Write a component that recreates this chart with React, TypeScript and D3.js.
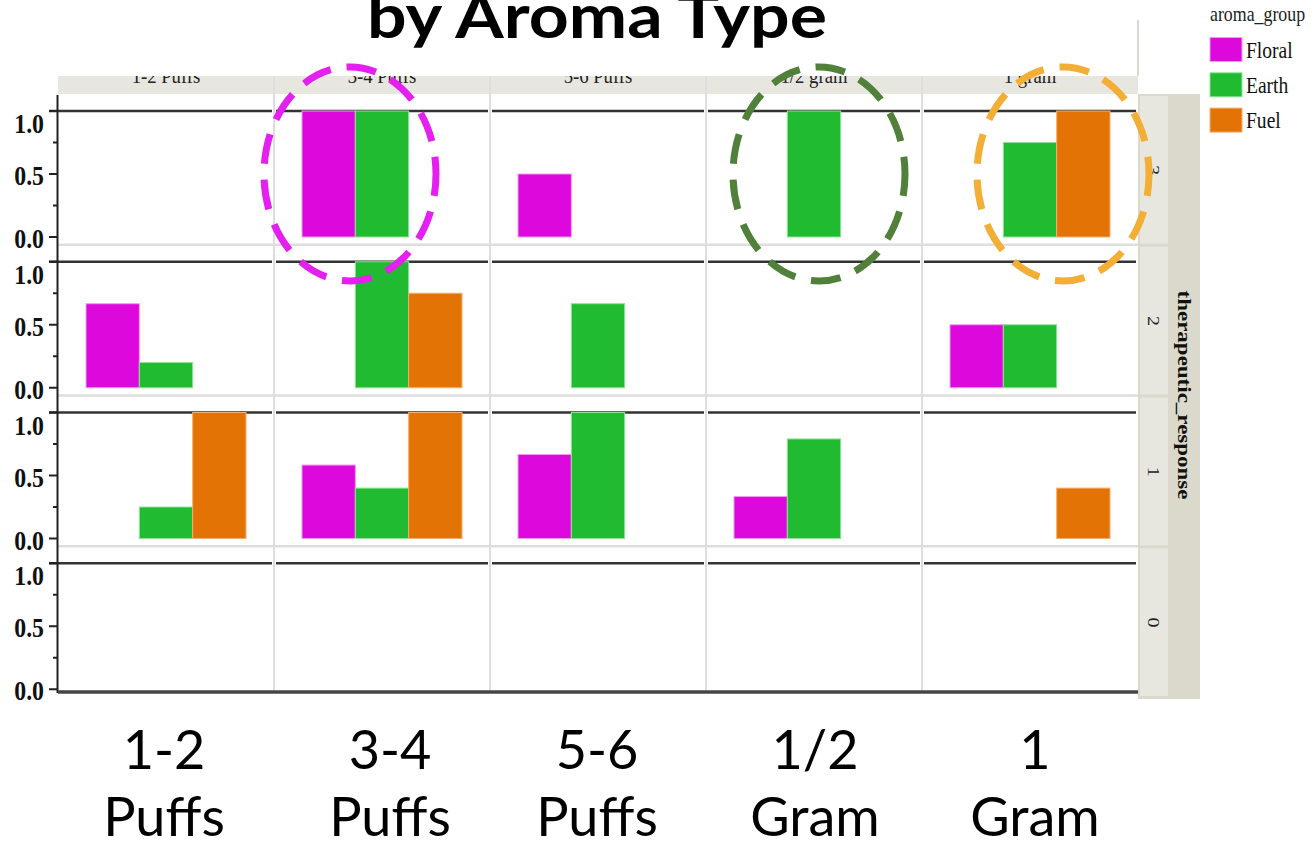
import React from "react";
import * as d3 from "d3";

const aromaGroups = ["Floral", "Earth", "Fuel"];
const doseLevels = ["1-2 Puffs", "3-4 Puffs", "5-6 Puffs", "1/2 gram", "1 gram"];
const responseLevels = ["3", "2", "1", "0"];
const yTicks = [0, 0.5, 1.0];
const yMinorTicks = [0.25, 0.75];
const slideLine1 = ["1-2", "3-4", "5-6", "1/2", "1"];
const slideLine2 = ["Puffs", "Puffs", "Puffs", "Gram", "Gram"];

// values[responseIndex][doseIndex], 0 = no bar
const floralValues = [
  [0, 1.0, 0.5, 0, 0],
  [0.667, 0, 0, 0, 0.5],
  [0, 0.583, 0.667, 0.333, 0],
  [0, 0, 0, 0, 0],
];
const earthValues = [
  [0, 1.0, 0, 1.0, 0.75],
  [0.2, 1.0, 0.667, 0, 0.5],
  [0.25, 0.4, 1.0, 0.79, 0],
  [0, 0, 0, 0, 0],
];
const fuelValues = [
  [0, 0, 0, 0, 1.0],
  [0, 0.75, 0, 0, 0],
  [1.0, 1.0, 0, 0, 0.4],
  [0, 0, 0, 0, 0],
];

const groupColors = ["#dd08dc", "#21bb31", "#e37305"];
const groupStroke = ["#f09af0", "#8ee494", "#f3b070"];
const highlightColors = ["#e41ff0", "#50803a", "#f2ae35"];
const highlightCols = [1, 3, 4];
const highlightShift = [-32, 5, 33];
const labelShift = [-2, 8, -1, 1, 5];

const W = 1316;
const H = 844;
const serif = "'Liberation Serif', 'DejaVu Serif', serif";
const sans = "Lato, 'Open Sans', sans-serif";

export default function App() {
  const xCol = d3.scaleBand<string>().domain(doseLevels).range([58, 1138]);
  const yRow = d3.scaleBand<string>().domain(responseLevels).range([95, 698]);
  const xBar = d3.scaleBand<string>().domain(aromaGroups).range([28, 188]);
  const colW = xCol.bandwidth();
  const rowH = yRow.bandwidth();
  const seriesValues = [floralValues, earthValues, fuelValues];

  const yFor = (r: string) =>
    d3.scaleLinear().domain([0, 1]).range([(yRow(r) as number) + 142, (yRow(r) as number) + 16]);

  const sx = 0.85;

  return (
    <svg
      width={W}
      height={H}
      style={{ position: "absolute", left: 0, top: 0, background: "#fff" }}
    >
      <defs>
        <clipPath id="stripClip">
          <rect x={58} y={76} width={1080} height={18} />
        </clipPath>
      </defs>
      <rect x={0} y={0} width={W} height={H} fill="#fff" />

      {/* Title (cut off) */}
      <text
        x={597}
        y={38}
        textAnchor="middle"
        fontFamily={sans}
        fontWeight="bold"
        fontSize={62}
        textLength={460}
        lengthAdjust="spacingAndGlyphs"
        fill="#000"
      >
        by Aroma Type
      </text>

      {/* frame line at top right */}
      <line x1={1138} x2={1138} y1={20} y2={76} stroke="#d8d8d0" strokeWidth={2} />

      {/* top strip */}
      <rect x={58} y={76} width={1080} height={18} fill="#e8e7df" />
      <g clipPath="url(#stripClip)">
        {doseLevels.map((d) => (
          <text
            key={d}
            transform={`translate(${(xCol(d) as number) + colW / 2},${83}) scale(${sx},1)`}
            textAnchor="middle"
            fontFamily={serif}
            fontSize={22}
            fill="#222"
          >
            {d}
          </text>
        ))}
      </g>

      {/* right strips */}
      <rect x={1138} y={94} width={62} height={605} fill="#dbd9cb" />
      {responseLevels.map((r) => {
        const top = yRow(r) as number;
        return (
          <g key={"rs" + r}>
            <rect x={1140} y={top + 1} width={28} height={rowH - 3} fill="#e8e7df" />
            <text
              transform={`translate(${1154},${top + rowH / 2}) rotate(90) scale(1,${sx})`}
              textAnchor="middle"
              dominantBaseline="central"
              fontFamily={serif}
              fontSize={20}
              fill="#222"
            >
              {r}
            </text>
          </g>
        );
      })}
      <text
        transform={`translate(${1184},${395}) rotate(90) scale(1,${sx})`}
        textAnchor="middle"
        dominantBaseline="central"
        fontFamily={serif}
        fontWeight="bold"
        fontSize={23}
        fill="#111"
      >
        therapeutic_response
      </text>

      {/* column separators */}
      {doseLevels.slice(1).map((d) => (
        <line
          key={"cs" + d}
          x1={xCol(d) as number}
          x2={xCol(d) as number}
          y1={76}
          y2={692}
          stroke="#dedede"
          strokeWidth={2}
        />
      ))}
      {/* row separators */}
      {responseLevels.slice(1).map((r) => (
        <line
          key={"rsep" + r}
          x1={58}
          x2={1138}
          y1={(yRow(r) as number) - 1}
          y2={(yRow(r) as number) - 1}
          stroke="#dedede"
          strokeWidth={2.5}
        />
      ))}

      {/* panels */}
      {responseLevels.map((r, ri) => {
        const y = yFor(r);
        return (
          <g key={"p" + r}>
            {doseLevels.map((d, di) => {
              const x0 = xCol(d) as number;
              return (
                <g key={d}>
                  <line
                    x1={x0 + (di === 0 ? -9 : 2)}
                    x2={x0 + colW - 2}
                    y1={y(1)}
                    y2={y(1)}
                    stroke="#333"
                    strokeWidth={2.5}
                  />
                  {aromaGroups.map((g, gi) => {
                    const v = seriesValues[gi][ri][di];
                    if (!v) return null;
                    return (
                      <rect
                        key={g}
                        x={x0 + (xBar(g) as number)}
                        y={y(v)}
                        width={xBar.bandwidth()}
                        height={y(0) - y(v)}
                        fill={groupColors[gi]}
                        stroke={groupStroke[gi]}
                        strokeWidth={1}
                      />
                    );
                  })}
                </g>
              );
            })}
            {/* y ticks */}
            {yTicks.map((t) => (
              <line key={"t" + t} x1={49} x2={58} y1={y(t)} y2={y(t)} stroke="#222" strokeWidth={2} />
            ))}
            {yMinorTicks.map((t) => (
              <line key={"m" + t} x1={53} x2={58} y1={y(t)} y2={y(t)} stroke="#222" strokeWidth={2} />
            ))}
            {yTicks.map((t) => (
              <text
                key={"l" + t}
                transform={`translate(${44},${y(t) + (t === 1 ? 13 : 2)}) scale(${sx},1)`}
                textAnchor="end"
                dominantBaseline="central"
                fontFamily={serif}
                fontWeight="bold"
                fontSize={28}
                fill="#111"
              >
                {t.toFixed(1)}
              </text>
            ))}
          </g>
        );
      })}

      {/* y axis line */}
      <line x1={57.5} x2={57.5} y1={95} y2={693} stroke="#222" strokeWidth={2} />
      {/* bottom axis */}
      <line x1={58} x2={1138} y1={692} y2={692} stroke="#444" strokeWidth={3.5} />

      {/* legend */}
      <text
        transform={`translate(1210,21) scale(${sx},1)`}
        fontFamily={serif}
        fontSize={21}
        fill="#222"
      >
        aroma_group
      </text>
      {aromaGroups.map((g, gi) => (
        <g key={"lg" + g}>
          <rect
            x={1210}
            y={37.5 + gi * 35.3}
            width={32}
            height={24}
            fill={groupColors[gi]}
            stroke={groupStroke[gi]}
            strokeWidth={1}
          />
          <text
            transform={`translate(1246,${57.5 + gi * 35.3}) scale(${sx},1)`}
            fontFamily={serif}
            fontSize={23}
            fill="#111"
          >
            {g}
          </text>
        </g>
      ))}

      {/* highlight ellipses */}
      {highlightCols.map((ci, i) => {
        const d = doseLevels[ci];
        const y = yFor("3");
        return (
          <ellipse
            key={"hl" + i}
            cx={(xCol(d) as number) + colW / 2 + highlightShift[i]}
            cy={(y(0) + y(1)) / 2}
            rx={86}
            ry={107}
            fill="none"
            stroke={highlightColors[i]}
            strokeWidth={7}
            strokeDasharray="30 16"
            strokeDashoffset={8}
          />
        );
      })}

      {/* slide labels */}
      {doseLevels.map((d, di) => {
        const cx = (xCol(d) as number) + colW / 2 + labelShift[di];
        return (
          <g key={"sl" + d}>
            <text x={cx} y={769} textAnchor="middle" fontFamily={sans} fontSize={54} fill="#000">
              {slideLine1[di]}
            </text>
            <text x={cx} y={836} textAnchor="middle" fontFamily={sans} fontSize={54} fill="#000">
              {slideLine2[di]}
            </text>
          </g>
        );
      })}
    </svg>
  );
}
